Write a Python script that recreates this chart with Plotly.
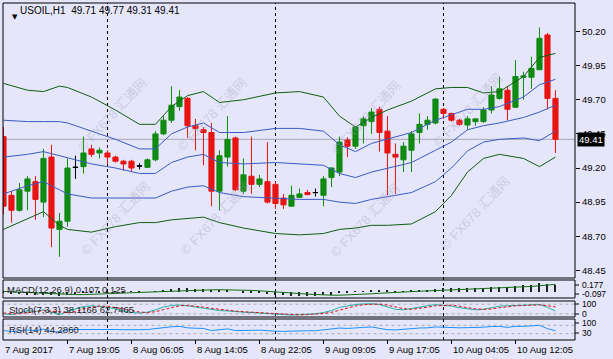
import plotly.graph_objects as go

W, H = 613, 359

# ---------------- data ----------------
bars = list(range(70))
opens = [49.43, 49.00, 48.89, 49.03, 49.10, 48.95, 49.28, 48.75, 48.81, 49.205,
         49.21, 49.34, 49.31, 49.31, 49.28, 49.25, 49.25, 49.215, 49.205, 49.26,
         49.45, 49.55, 49.65, 49.71, 49.51, 49.48, 49.46, 49.03, 49.28, 49.42,
         49.03, 49.14, 49.08, 49.10, 49.08, 48.98, 48.92, 48.985, 49.02, 49.02,
         49.00, 49.13, 49.17, 49.405, 49.36, 49.51, 49.54, 49.63, 49.47, 49.30,
         49.26, 49.33, 49.46, 49.52, 49.53, 49.63, 49.60, 49.55, 49.515, 49.54,
         49.54, 49.625, 49.71, 49.77, 49.645, 49.865, 49.865, 49.92, 50.175, 49.71]
highs = [49.50, 49.03, 49.09, 49.14, 49.14, 49.34, 49.37, 48.87, 49.27, 49.29,
         49.43, 49.37, 49.35, 49.33, 49.29, 49.26, 49.26, 49.235, 49.27, 49.47,
         49.58, 49.80, 49.77, 49.72, 49.56, 49.50, 49.53, 49.33, 49.58, 49.43,
         49.27, 49.43, 49.15, 49.39, 49.10, 49.01, 49.07, 49.05, 49.04, 49.05,
         49.14, 49.205, 49.43, 49.425, 49.50, 49.58, 49.64, 49.65, 49.58, 49.38,
         49.39, 49.47, 49.60, 49.58, 49.71, 49.64, 49.605, 49.56, 49.58, 49.56,
         49.645, 49.80, 49.87, 49.80, 49.99, 49.905, 50.015, 50.23, 50.19, 49.77]
lows = [48.86, 48.80, 48.88, 48.89, 48.82, 48.84, 48.62, 48.55, 48.77, 49.12,
        49.16, 49.28, 49.27, 49.23, 49.24, 49.18, 49.17, 49.19, 49.20, 49.25,
        49.44, 49.53, 49.62, 49.42, 49.33, 49.22, 48.92, 48.89, 49.21, 49.03,
        49.01, 49.01, 49.06, 48.94, 48.90, 48.90, 48.92, 48.98, 49.00, 48.99,
        48.92, 49.06, 49.14, 49.28, 49.34, 49.38, 49.45, 49.32, 49.00, 49.01,
        49.17, 49.17, 49.38, 49.48, 49.52, 49.56, 49.54, 49.51, 49.48, 49.51,
        49.53, 49.60, 49.70, 49.55, 49.64, 49.70, 49.78, 49.92, 49.63, 49.31]
closes = [48.92, 48.89, 49.04, 49.12, 48.97, 49.27, 48.76, 48.81, 49.20, 49.205,
          49.31, 49.30, 49.33, 49.28, 49.25, 49.23, 49.20, 49.215, 49.26, 49.45,
          49.55, 49.66, 49.72, 49.51, 49.49, 49.46, 49.03, 49.29, 49.41, 49.04,
          49.15, 49.08, 49.12, 48.95, 48.94, 48.93, 49.00, 49.01, 49.005, 49.02,
          49.12, 49.20, 49.39, 49.36, 49.50, 49.56, 49.61, 49.46, 49.31, 49.28,
          49.36, 49.45, 49.52, 49.55, 49.705, 49.60, 49.55, 49.52, 49.56, 49.56,
          49.625, 49.735, 49.78, 49.63, 49.87, 49.875, 49.93, 50.15, 49.71, 49.41]

# Bollinger band lines at sample bars
band_idx = [0, 3, 5, 7, 8, 11, 14, 17, 19, 21, 23, 25, 27, 30, 34, 37, 40, 42, 44, 46,
            48, 51, 54, 56, 58, 60, 62, 65, 67, 69]
bb_outer_up = [49.82, 49.77, 49.76, 49.80, 49.79, 49.72, 49.625, 49.52, 49.52, 49.65,
               49.73, 49.76, 49.68, 49.70, 49.75, 49.76, 49.72, 49.58, 49.50, 49.57,
               49.625, 49.69, 49.78, 49.79, 49.79, 49.75, 49.76, 49.87, 50.01, 50.04]
bb_inner_up = [49.55, 49.54, 49.54, 49.54, 49.53, 49.47, 49.41, 49.34, 49.34, 49.45,
               49.50, 49.53, 49.46, 49.46, 49.49, 49.49, 49.47, 49.37, 49.32, 49.38,
               49.41, 49.46, 49.55, 49.59, 49.63, 49.63, 49.65, 49.72, 49.81, 49.85]
bb_mid = [49.28, 49.30, 49.32, 49.29, 49.27, 49.23, 49.20, 49.16, 49.16, 49.24,
          49.28, 49.30, 49.24, 49.23, 49.24, 49.23, 49.22, 49.16, 49.13, 49.17,
          49.20, 49.24, 49.33, 49.39, 49.48, 49.51, 49.53, 49.57, 49.61, 49.66]
bb_inner_lo = [49.01, 49.07, 49.10, 49.04, 49.01, 48.98, 48.98, 48.98, 48.98, 49.03,
               49.06, 49.07, 49.02, 48.99, 48.98, 48.97, 48.97, 48.95, 48.94, 48.97,
               48.99, 49.02, 49.10, 49.20, 49.325, 49.39, 49.41, 49.42, 49.40, 49.47]
bb_outer_lo = [48.75, 48.83, 48.88, 48.78, 48.75, 48.73, 48.77, 48.80, 48.80, 48.82,
               48.83, 48.84, 48.80, 48.76, 48.72, 48.71, 48.72, 48.75, 48.76, 48.78,
               48.78, 48.79, 48.88, 49.00, 49.17, 49.27, 49.30, 49.27, 49.21, 49.28]

macd_main = [-0.020, -0.035, -0.045, -0.050, -0.055, -0.050, -0.060, -0.070, -0.055, -0.045,
             -0.030, -0.020, -0.012, -0.008, -0.005, -0.004, -0.004, -0.003, 0.000, 0.010,
             0.025, 0.040, 0.055, 0.055, 0.052, 0.048, 0.025, 0.015, 0.015, 0.000,
             -0.010, -0.020, -0.030, -0.045, -0.055, -0.065, -0.070, -0.072, -0.072, -0.070,
             -0.062, -0.050, -0.030, -0.020, -0.005, 0.010, 0.025, 0.025, 0.015, 0.008,
             0.010, 0.018, 0.028, 0.035, 0.048, 0.055, 0.058, 0.058, 0.060, 0.060,
             0.065, 0.075, 0.085, 0.085, 0.100, 0.110, 0.122, 0.150, 0.140, 0.107]
macd_signal = [0.005, -0.002, -0.010, -0.018, -0.025, -0.032, -0.038, -0.044, -0.048, -0.050,
               -0.050, -0.047, -0.043, -0.037, -0.030, -0.024, -0.018, -0.012, -0.008, -0.004,
               0.000, 0.004, 0.010, 0.016, 0.022, 0.028, 0.032, 0.034, 0.034, 0.032,
               0.028, 0.022, 0.015, 0.008, -0.002, -0.012, -0.022, -0.032, -0.042, -0.050,
               -0.056, -0.060, -0.060, -0.057, -0.052, -0.045, -0.036, -0.027, -0.018, -0.010,
               -0.004, 0.002, 0.008, 0.013, 0.018, 0.024, 0.030, 0.036, 0.042, 0.047,
               0.052, 0.056, 0.060, 0.064, 0.074, 0.081, 0.090, 0.102, 0.114, 0.125]
stoch_main = [20, 15, 25, 40, 35, 45, 30, 15, 35, 50, 65, 70, 68, 62, 50, 40, 28, 25, 30, 45,
              62, 72, 75, 70, 62, 55, 45, 40, 38, 32, 30, 28, 25, 20, 15, 12, 12, 15, 18, 20,
              28, 40, 60, 70, 78, 82, 83, 78, 62, 48, 45, 52, 62, 70, 78, 75, 68, 58, 50, 45,
              48, 58, 68, 70, 72, 74, 76, 78, 60, 38.1166]
stoch_signal = [25, 20, 20, 27, 33, 40, 37, 30, 27, 33, 50, 62, 68, 67, 60, 51, 40, 31, 28, 33,
                46, 60, 70, 72, 69, 62, 54, 47, 41, 37, 33, 30, 28, 24, 20, 16, 13, 13, 15, 18,
                22, 29, 43, 57, 69, 77, 81, 81, 74, 63, 52, 48, 53, 61, 70, 74, 74, 67, 59, 51,
                48, 50, 58, 65, 70, 72, 74, 76, 71, 62.7465]
rsi = [45, 40, 44, 48, 44, 52, 40, 38, 50, 50, 53, 52, 52, 51, 50, 49, 48, 49, 50, 55,
       59, 63, 65, 58, 56, 55, 45, 50, 53, 45, 47, 46, 47, 43, 42, 41, 43, 44, 44, 44,
       48, 50, 57, 55, 59, 60, 62, 55, 49, 48, 52, 55, 57, 58, 62, 61, 59, 58, 59, 59,
       61, 64, 65, 60, 65, 65, 66, 70, 54, 44.286]

price_ticks = [48.45, 48.70, 48.95, 49.20, 49.45, 49.70, 49.95, 50.20]
time_tick_bars = [0, 8, 16, 24, 32, 40, 48, 56, 64]
time_tick_labels = ["7 Aug 2017", "7 Aug 19:05", "8 Aug 06:05", "8 Aug 14:05", "8 Aug 22:05",
                    "9 Aug 09:05", "9 Aug 17:05", "10 Aug 04:05", "10 Aug 12:05"]
day_separator_bars = [13, 34, 55]
macd_scale_labels = ["0.177", "-0.097"]
stoch_scale_labels = ["100", "0"]
rsi_scale_labels = ["100", "30"]

# ---------------- helpers ----------------
def px(x):
    return x / W


def py(y):
    return 1 - y / H


BG = "#E6E6FA"
FONT = "Liberation Sans, Arial, sans-serif"
GREEN_BB = "#0E5E0E"
BLUE_BB = "#3B5BC4"
UP = "#108A10"
DOWN = "#E81414"

fig = go.Figure()

# bands
for vals, col in [(bb_outer_up, GREEN_BB), (bb_inner_up, BLUE_BB), (bb_mid, BLUE_BB),
                  (bb_inner_lo, BLUE_BB), (bb_outer_lo, GREEN_BB)]:
    fig.add_trace(go.Scatter(x=band_idx, y=vals, mode="lines", line=dict(color=col, width=1),
                             xaxis="x", yaxis="y", hoverinfo="skip", showlegend=False))

reg = [i for i in bars if opens[i] != closes[i]]
doj = [i for i in bars if opens[i] == closes[i]]
fig.add_trace(go.Candlestick(
    x=reg, open=[opens[i] for i in reg], high=[highs[i] for i in reg],
    low=[lows[i] for i in reg], close=[closes[i] for i in reg],
    increasing=dict(line=dict(color=UP, width=1), fillcolor=UP),
    decreasing=dict(line=dict(color=DOWN, width=1), fillcolor=DOWN),
    whiskerwidth=0, xaxis="x", yaxis="y", showlegend=False))
fig.add_trace(go.Candlestick(
    x=doj, open=[opens[i] for i in doj], high=[highs[i] for i in doj],
    low=[lows[i] for i in doj], close=[closes[i] for i in doj],
    increasing=dict(line=dict(color="black", width=1), fillcolor="black"),
    decreasing=dict(line=dict(color="black", width=1), fillcolor="black"),
    whiskerwidth=0, xaxis="x", yaxis="y", showlegend=False))

# MACD
fig.add_trace(go.Bar(x=bars, y=macd_main, width=0.13, marker=dict(color="#202020", line=dict(width=0)),
                     xaxis="x", yaxis="y2", showlegend=False, hoverinfo="skip"))
fig.add_trace(go.Scatter(x=bars, y=macd_signal, mode="lines", line=dict(color="#0E6E0E", width=1),
                         xaxis="x", yaxis="y2", showlegend=False, hoverinfo="skip"))
# Stoch
for lvl in [20, 80]:
    fig.add_trace(go.Scatter(x=[-1, 72], y=[lvl, lvl], mode="lines",
                             line=dict(color="#A8A8B8", width=1, dash="3px,3px"),
                             xaxis="x", yaxis="y3", showlegend=False, hoverinfo="skip"))
fig.add_trace(go.Scatter(x=bars, y=stoch_main, mode="lines", line=dict(color="#20B2AA", width=1),
                         xaxis="x", yaxis="y3", showlegend=False, hoverinfo="skip"))
fig.add_trace(go.Scatter(x=bars, y=stoch_signal, mode="lines",
                         line=dict(color="#E01010", width=1, dash="3px,2px"),
                         xaxis="x", yaxis="y3", showlegend=False, hoverinfo="skip"))
# RSI
for lvl in [30, 70]:
    fig.add_trace(go.Scatter(x=[-1, 72], y=[lvl, lvl], mode="lines",
                             line=dict(color="#A8A8B8", width=1, dash="3px,3px"),
                             xaxis="x", yaxis="y4", showlegend=False, hoverinfo="skip"))
fig.add_trace(go.Scatter(x=bars, y=rsi, mode="lines", line=dict(color="#1E90FF", width=1),
                         xaxis="x", yaxis="y4", showlegend=False, hoverinfo="skip"))

# ---------------- layout ----------------
xdom = [px(3), px(575)]
ax_common = dict(showgrid=False, zeroline=False, showline=False, fixedrange=True)
layout = dict(
    width=W, height=H, margin=dict(l=0, r=0, t=0, b=0),
    paper_bgcolor=BG, plot_bgcolor=BG, showlegend=False,
    boxgap=0.2, boxgroupgap=0.2, bargap=0,
    font=dict(family=FONT, size=9.5, color="black"),
    xaxis=dict(domain=xdom, range=[-0.06, 71.44], visible=False,
               rangeslider=dict(visible=False), **ax_common),
    yaxis=dict(domain=[py(278), py(3)], range=[48.394, 50.409], side="right", anchor="x",
               tickvals=price_ticks, ticktext=[f"{v:.2f}" for v in price_ticks],
               ticks="outside", ticklen=4, tickcolor="black", tickwidth=1,
               tickfont=dict(family=FONT, size=9.5, color="black"), **ax_common),
    yaxis2=dict(domain=[py(298), py(280)], range=[-0.108, 0.200], anchor="x",
                showticklabels=False, **ax_common),
    yaxis3=dict(domain=[py(317), py(301)], range=[0, 100], anchor="x",
                showticklabels=False, **ax_common),
    yaxis4=dict(domain=[py(340), py(319)], range=[0, 100], anchor="x",
                showticklabels=False, **ax_common),
)
fig.update_layout(**layout)

shapes = []
# panel frames
for (t, b) in [(3, 278), (280, 298), (301, 317), (319, 340)]:
    shapes.append(dict(type="rect", xref="paper", yref="paper", x0=px(3), x1=px(575),
                       y0=py(b), y1=py(t), line=dict(color="black", width=1), layer="above"))
# day separators
for s in day_separator_bars:
    shapes.append(dict(type="line", xref="x", yref="paper", x0=s, x1=s, y0=py(340), y1=py(3),
                       line=dict(color="black", width=1, dash="3px,3px"), layer="below"))
# bid line
shapes.append(dict(type="line", xref="paper", yref="y", x0=px(3), x1=px(575),
                   y0=closes[-1], y1=closes[-1], line=dict(color="#A8A8B4", width=1), layer="below"))
# time ticks
for b in time_tick_bars[1:]:
    shapes.append(dict(type="line", xref="x", yref="paper", x0=b, x1=b, y0=py(344), y1=py(340),
                       line=dict(color="black", width=1)))
# small ticks on sub-panel right side
for y in [285, 294, 304, 314, 323, 333]:
    shapes.append(dict(type="line", xref="paper", yref="paper", x0=px(575), x1=px(579),
                       y0=py(y), y1=py(y), line=dict(color="black", width=1)))
fig.update_layout(shapes=shapes)

ann = []
# watermarks
for cx, cy in [(72, 72), (212, 72), (366, 75), (508, 68),
               (75, 218), (215, 218), (365, 220), (515, 213)]:
    ann.append(dict(x=px(cx), y=py(cy), xref="paper", yref="paper", showarrow=False,
                    text="© FX678 汇通网", textangle=-47,
                    font=dict(family="Liberation Sans, Noto Sans CJK SC", size=13,
                              color="rgba(160,160,185,0.40)")))
# header
ann.append(dict(x=px(9.5), y=py(11), xref="paper", yref="paper", showarrow=False,
                text="▼", font=dict(family="DejaVu Sans", size=7, color="black")))
hdr = f"USOIL,H1\u00a0\u00a0{opens[-1]:.2f} {highs[-1]:.2f} {lows[-1]:.2f} {closes[-1]:.2f}"
ann.append(dict(x=px(18), y=py(11), xref="paper", yref="paper", showarrow=False,
                xanchor="left", yanchor="middle", text=hdr, font=dict(size=10)))
# current price box
ann.append(dict(x=px(577), y=closes[-1], xref="paper", yref="y", showarrow=False,
                xanchor="left", yanchor="middle", text=f"{closes[-1]:.2f}",
                bgcolor="black", borderpad=1, font=dict(color="white", size=9.5)))
# sub-panel labels
ann.append(dict(x=px(5), y=py(289), xref="paper", yref="paper", showarrow=False,
                xanchor="left", yanchor="middle",
                text=f"MACD(12,26,9) {macd_main[-1]:.3f} {macd_signal[-1]:.3f}",
                font=dict(size=9.5, color="#202020")))
ann.append(dict(x=px(7), y=py(309), xref="paper", yref="paper", showarrow=False,
                xanchor="left", yanchor="middle",
                text=f"Stoch(7,3,3) {stoch_main[-1]:.4f} {stoch_signal[-1]:.4f}",
                font=dict(size=9.5, color="#202020")))
ann.append(dict(x=px(7), y=py(329), xref="paper", yref="paper", showarrow=False,
                xanchor="left", yanchor="middle", text=f"RSI(14) {rsi[-1]:.4f}",
                font=dict(size=9.5, color="#202020")))
# sub-panel right scale labels
for txt, y in zip(macd_scale_labels + stoch_scale_labels + rsi_scale_labels,
                  [285, 294, 304, 314, 323, 333]):
    ann.append(dict(x=px(580), y=py(y), xref="paper", yref="paper", showarrow=False,
                    xanchor="left", yanchor="middle", text=txt, font=dict(size=8.5)))
# time labels
for b, lab in zip(time_tick_bars, time_tick_labels):
    ann.append(dict(x=b, y=py(349), xref="x", yref="paper", showarrow=False,
                    xanchor="left", yanchor="middle", text=lab, font=dict(size=9.5)))
fig.update_layout(annotations=ann)

fig.write_html("out.html")
